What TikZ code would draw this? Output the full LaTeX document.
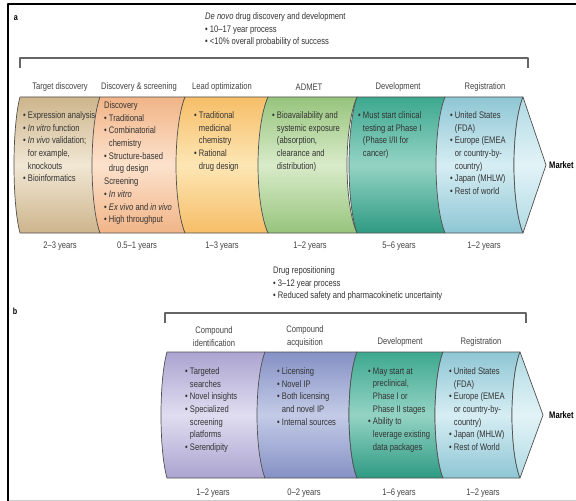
\documentclass[tikz,border=0pt]{standalone}
\usepackage{fontspec}
\setmainfont{Liberation Sans}[FakeStretch=0.8]
\definecolor{txtc}{HTML}{333333}
\definecolor{hdrc}{HTML}{444444}
\definecolor{segc}{HTML}{505050}
\definecolor{brkc}{HTML}{666666}
\definecolor{aAt}{HTML}{CDB58C}\definecolor{aAm}{HTML}{F1E7D4}
\definecolor{aBt}{HTML}{F1B487}\definecolor{aBm}{HTML}{FCE2CC}
\definecolor{aCt}{HTML}{F6BE68}\definecolor{aCm}{HTML}{FDE6B4}
\definecolor{aDt}{HTML}{96C47C}\definecolor{aDm}{HTML}{D9EBC9}
\definecolor{aEt}{HTML}{3DA88F}\definecolor{aEm}{HTML}{94D3C4}\definecolor{aEb}{HTML}{2E9A82}
\definecolor{aFt}{HTML}{8EC6D4}\definecolor{aFm}{HTML}{D6EDF3}
\definecolor{hdt}{HTML}{B0DAE4}\definecolor{hdm}{HTML}{E2F3F7}
\definecolor{bAt}{HTML}{ABA4D1}\definecolor{bAm}{HTML}{E0DDF0}
\definecolor{bBt}{HTML}{8591C5}\definecolor{bBm}{HTML}{C4CBE7}
\newcommand\ind{\hphantom{\textbullet\ }}
\newcommand\drawseg[6]{% xl xr top bot bulge shading
  \pgfmathsetmacro\kk{4*#5/3}%
  \pgfmathsetmacro\ya{#3+0.22*(#4-#3)}%
  \pgfmathsetmacro\yb{#4-0.22*(#4-#3)}%
  \shade[#6] (#1,#3) -- (#2,#3) .. controls (#2-\kk,\ya) and (#2-\kk,\yb) .. (#2,#4) -- (#1,#4) .. controls (#1-\kk,\yb) and (#1-\kk,\ya) .. (#1,#3) -- cycle;
  \draw[segline] (#1,#3) -- (#2,#3) .. controls (#2-\kk,\ya) and (#2-\kk,\yb) .. (#2,#4) -- (#1,#4) .. controls (#1-\kk,\yb) and (#1-\kk,\ya) .. (#1,#3) -- cycle;
}
\newcommand\drawhead[5]{% xc top bot bulge tipx
  \pgfmathsetmacro\kk{4*#4/3}%
  \pgfmathsetmacro\ya{#2+0.22*(#3-#2)}%
  \pgfmathsetmacro\yb{#3-0.22*(#3-#2)}%
  \pgfmathsetmacro\ym{(#2+#3)/2}%
  \shade[top color=hdt, bottom color=hdt, middle color=hdm] (#1,#2) -- (#5,\ym) -- (#1,#3) .. controls (#1-\kk,\yb) and (#1-\kk,\ya) .. (#1,#2) -- cycle;
  \draw[segline] (#1,#2) -- (#5,\ym) -- (#1,#3) .. controls (#1-\kk,\yb) and (#1-\kk,\ya) .. (#1,#2) -- cycle;
}
\tikzset{
  segline/.style={draw=segc, line width=0.7bp},
  brk/.style={draw=brkc, line width=1.1bp},
  txt/.style={inner sep=0pt, align=left, anchor=north west, text=txtc, font=\fontsize{9.5bp}{12.7bp}\selectfont},
  hdr/.style={inner sep=0pt, align=center, text=hdrc, font=\fontsize{9.5bp}{12.7bp}\selectfont},
  mkt/.style={inner sep=0pt, anchor=west, text=black, font=\bfseries\fontsize{9.5bp}{11bp}\selectfont},
  lbl/.style={inner sep=0pt, text=black, font=\bfseries\fontsize{9bp}{10bp}\selectfont}
}
\begin{document}
\begin{tikzpicture}[x=1bp,y=-1bp,line join=round]
\useasboundingbox (0,0) rectangle (576,501);
\fill[white] (0,0) rectangle (576,501);
% frame
\draw[black, line width=2bp] (8,502) -- (8,4.5) -- (577,4.5);
\draw[black!20, line width=1bp] (9,500) -- (576,500);

% ---------------- panel a ----------------
\node[lbl] (la) at (16,18) {a};
\node[txt] (ta) at (205,12.4) {\textit{De novo} drug discovery and development\\\textbullet\ 10–17 year process\\\textbullet\ <10\% overall probability of success};
\draw[brk] (20,68) -- (20,58) -- (528,58) -- (528,68);

\drawseg{20}{100}{97}{233}{6}{top color=aAt, bottom color=aAt, middle color=aAm}
\drawseg{100}{185}{97}{233}{8}{top color=aBt, bottom color=aBt, middle color=aBm}
\drawseg{185}{268}{97}{233}{9}{top color=aCt, bottom color=aCt, middle color=aCm}
\drawseg{268}{357}{97}{233}{10}{top color=aDt, bottom color=aDt, middle color=aDm}
\drawseg{357}{445}{97}{233}{8}{top color=aEt, bottom color=aEb, middle color=aEm}
\drawseg{445}{523}{97}{233}{9}{top color=aFt, bottom color=aFt, middle color=aFm}
\drawhead{523}{97}{233}{9}{546}

\node[hdr] (ha1) at (60,87) {Target discovery};
\node[hdr] (ha2) at (139,87) {Discovery \& screening};
\node[hdr] (ha3) at (222,87) {Lead optimization};
\node[hdr] (ha4) at (309,87) {ADMET};
\node[hdr] (ha5) at (398,87) {Development};
\node[hdr] (ha6) at (485,87) {Registration};

\node[txt] (sa1) at (23,111.4) {\textbullet\ Expression analysis\\\textbullet\ \textit{In vitro} function\\\textbullet\ \textit{In vivo} validation;\\\ind for example,\\\ind knockouts\\\textbullet\ Bioinformatics};
\node[txt] (sa2) at (104,101.4) {Discovery\\\textbullet\ Traditional\\\textbullet\ Combinatorial\\\ind chemistry\\\textbullet\ Structure-based\\\ind drug design\\Screening\\\textbullet\ \textit{In vitro}\\\textbullet\ \textit{Ex vivo} and \textit{in vivo}\\\textbullet\ High throughput};
\node[txt] (sa3) at (194,111.4) {\textbullet\ Traditional\\\ind medicinal\\\ind chemistry\\\textbullet\ Rational\\\ind drug design};
\node[txt] (sa4) at (272,111.4) {\textbullet\ Bioavailability and\\\ind systemic exposure\\\ind (absorption,\\\ind clearance and\\\ind distribution)};
\node[txt] (sa5) at (358,111.4) {\textbullet\ Must start clinical\\\ind testing at Phase I\\\ind (Phase I/II for\\\ind cancer)};
\node[txt] (sa6) at (450,111.4) {\textbullet\ United States\\\ind (FDA)\\\textbullet\ Europe (EMEA\\\ind or country-by-\\\ind country)\\\textbullet\ Japan (MHLW)\\\textbullet\ Rest of world};

\node[hdr] (ya1) at (60,246) {2–3 years};
\node[hdr] (ya2) at (137,246) {0.5–1 years};
\node[hdr] (ya3) at (222,246) {1–3 years};
\node[hdr] (ya4) at (310,246) {1–2 years};
\node[hdr] (ya5) at (399,246) {5–6 years};
\node[hdr] (ya6) at (484,246) {1–2 years};
\node[mkt] (ma) at (549,165) {Market};

% ---------------- panel b ----------------
\node[lbl] (lb) at (15,311) {b};
\node[txt] (tb) at (273,266.4) {Drug repositioning\\\textbullet\ 3–12 year process\\\textbullet\ Reduced safety and pharmacokinetic uncertainty};
\draw[brk] (165,323) -- (165,313) -- (526,313) -- (526,323);

\drawseg{167}{265}{352}{478}{6}{top color=bAt, bottom color=bAt, middle color=bAm}
\drawseg{265}{357}{352}{478}{8}{top color=bBt, bottom color=bBt, middle color=bBm}
\drawseg{357}{443}{352}{478}{8}{top color=aEt, bottom color=aEb, middle color=aEm}
\drawseg{443}{520}{352}{478}{8}{top color=aFt, bottom color=aFt, middle color=aFm}
\drawhead{520}{352}{478}{8}{543}

\node[hdr] (hb1) at (214,336.5) {Compound\\identification};
\node[hdr] (hb2) at (305,336.5) {Compound\\acquisition};
\node[hdr] (hb3) at (400,342) {Development};
\node[hdr] (hb4) at (481,342) {Registration};

\node[txt] (sb1) at (185,367.4) {\textbullet\ Targeted\\\ind searches\\\textbullet\ Novel insights\\\textbullet\ Specialized\\\ind screening\\\ind platforms\\\textbullet\ Serendipity};
\node[txt] (sb2) at (277,367.4) {\textbullet\ Licensing\\\textbullet\ Novel IP\\\textbullet\ Both licensing\\\ind and novel IP\\\textbullet\ Internal sources};
\node[txt] (sb3) at (368,367.4) {\textbullet\ May start at\\\ind preclinical,\\\ind Phase I or\\\ind Phase II stages\\\textbullet\ Ability to\\\ind leverage existing\\\ind data packages};
\node[txt] (sb4) at (449,367.4) {\textbullet\ United States\\\ind (FDA)\\\textbullet\ Europe (EMEA\\\ind or country-by-\\\ind country)\\\textbullet\ Japan (MHLW)\\\textbullet\ Rest of World};

\node[hdr] (yb1) at (213,493) {1–2 years};
\node[hdr] (yb2) at (304,493) {0–2 years};
\node[hdr] (yb3) at (399,493) {1–6 years};
\node[hdr] (yb4) at (483,493) {1–2 years};
\node[mkt] (mb) at (549,415) {Market};
\end{tikzpicture}
\end{document}
